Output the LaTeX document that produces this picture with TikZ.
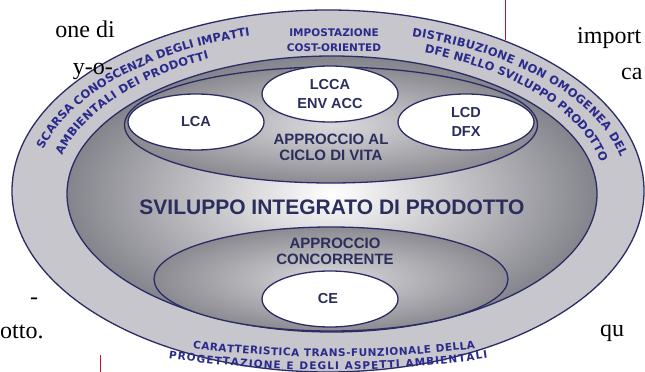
\documentclass[tikz,border=0pt]{standalone}
\usepackage{fontspec}
\setmainfont{Liberation Serif}
\newfontfamily\schemafont{Liberation Sans}
\newfontfamily\anellofont{DejaVu Sans}
\usetikzlibrary{shapes.geometric,decorations.text}

\definecolor{bordo}{HTML}{2B2B66}
\definecolor{scritta}{HTML}{2B2D5C}
\definecolor{anello}{HTML}{2A2A8C}
\definecolor{grigioanello}{HTML}{C6C6CC}
\definecolor{grigioscuro}{HTML}{84848C}
\definecolor{grigiomedio}{HTML}{8A8A90}
\definecolor{grigiochiaro}{HTML}{DADADE}
\definecolor{rossopagina}{HTML}{D0102A}

\begin{document}
\begin{tikzpicture}[x=1pt,y=1pt,
  ovale/.style={ellipse,draw=bordo,line width=1.3pt,inner sep=0pt},
  bianco/.style={ovale,fill=white,minimum width=136pt,minimum height=56pt,
    font=\schemafont\bfseries\fontsize{14.5}{19}\selectfont,text=scritta,align=center},
  etichetta/.style={font=\schemafont\bfseries\fontsize{15}{15.5}\selectfont,text=scritta,align=center},
  curva/.style={decorate,decoration={text along path,text align={fit to path},text color=anello,
    text={|\anellofont\bfseries\fontsize{11.5}{13}\selectfont|#1}}},
  curvabassa/.style={decorate,decoration={text along path,text align={fit to path},text color=anello,
    text={|\anellofont\bfseries\fontsize{10.5}{12}\selectfont|#1}}},
  pagina/.style={font=\fontsize{24}{28}\selectfont,inner sep=0pt}
]

\useasboundingbox (0,0) rectangle (645,372);

% Anello esterno
\node[ovale,fill=grigioanello,minimum width=632pt,minimum height=362pt] (esterno) at (328,181) {};

% Sviluppo integrato
\node[ovale,inner color=white,outer color=grigioscuro,minimum width=530pt,minimum height=276pt] (sviluppo) at (332,178) {};
\node[font=\schemafont\bfseries\fontsize{21}{24}\selectfont,text=scritta] (titolo) at (332,165) {SVILUPPO INTEGRATO DI PRODOTTO};

% Ciclo di vita
\node[ovale,inner color=grigiochiaro,outer color=grigiomedio,minimum width=413pt,minimum height=116pt] (ciclo) at (331,247) {};
\node[etichetta] (ciclotesto) at (331,224.5) {APPROCCIO AL\\CICLO DI VITA};

% Approccio concorrente
\node[ovale,inner color=grigiochiaro,outer color=grigiomedio,minimum width=354pt,minimum height=104pt] (concorrente) at (331,93) {};
\node[etichetta] (concorrentetesto) at (335,120.5) {APPROCCIO\\CONCORRENTE};

% Strumenti
\foreach \nome/\x/\y/\testo in {
lca/196/250/LCA,
lcca/330/278/{LCCA\\ENV ACC},
lcd/466/250/{LCD\\DFX},
ce/330/73/CE
}
{
\node[bianco] (\nome) at (\x,\y) {\testo};
}

% Scritte sull'anello
\node[font=\anellofont\bfseries\fontsize{10.5}{14.5}\selectfont,text=anello,align=center] (costo) at (334,332) {IMPOSTAZIONE\\COST-ORIENTED};

\path[curva={SCARSA CONOSCENZA DEGLI IMPATTI}] ([shift={(165:297 and 161)}]330,181) arc[start angle=165,end angle=106,x radius=297,y radius=161];
\path[curva={AMBIENTALI DEI PRODOTTI}] ([shift={(166:276 and 147)}]330,181) arc[start angle=166,end angle=116,x radius=276,y radius=147];
\path[curva={DISTRIBUZIONE NON OMOGENEA DEL}] ([shift={(74:297 and 161)}]330,181) arc[start angle=74,end angle=12,x radius=297,y radius=161];
\path[curva={DFE NELLO SVILUPPO PRODOTTO}] ([shift={(70:276 and 147)}]330,181) arc[start angle=70,end angle=12,x radius=276,y radius=147];
\path[curvabassa={CARATTERISTICA TRANS-FUNZIONALE DELLA}] ([shift={(263.07:1170)}]334,1185) arc[start angle=263.07,end angle=276.93,radius=1170];
\path[curvabassa={PROGETTAZIONE E DEGLI ASPETTI AMBIENTALI}] ([shift={(261.67:1100)}]328,1102) arc[start angle=261.67,end angle=278.33,radius=1100];

% Testo della pagina
\node[pagina,anchor=base east] (p1) at (115,334) {one di};
\node[pagina,anchor=base east] (p2) at (113,297) {y-o-};
\node[pagina,anchor=base west] (p3) at (30,67) {-};
\node[pagina,anchor=base west] (p4) at (0,33) {otto.};
\node[pagina,anchor=base west] (p5) at (577,328) {import};
\node[pagina,anchor=base west] (p6) at (621,292) {ca};
\node[pagina,anchor=base west] (p7) at (600,35) {qu};
\draw[rossopagina,line width=0.8pt] (505,372) -- (505,332);
\draw[rossopagina,line width=0.8pt] (100,0) -- (100,17);

\end{tikzpicture}
\end{document}
